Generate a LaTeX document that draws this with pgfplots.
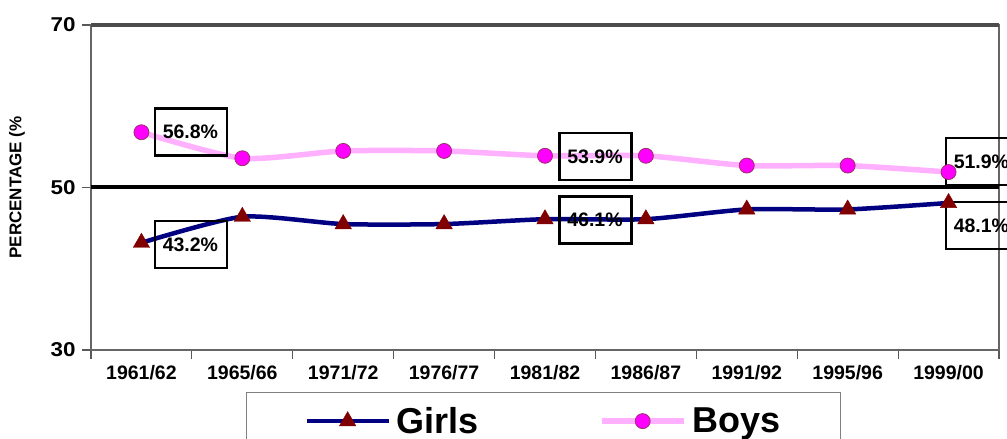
\documentclass[border=0pt]{standalone}
\usepackage{fontspec}
\setmainfont{Liberation Sans}
\newfontfamily\stretchfont[FakeStretch=1.12]{Liberation Sans}
\usepackage{pgfplots}
\pgfplotsset{compat=1.18}
\definecolor{girlsline}{RGB}{0,0,128}
\definecolor{girlsmark}{RGB}{128,0,0}
\definecolor{boysline}{RGB}{255,176,255}
\definecolor{boysmark}{RGB}{255,0,255}
\definecolor{boysedge}{RGB}{153,51,102}
\begin{document}
\begin{tikzpicture}
\path[use as bounding box] (-91pt,-89pt) rectangle (916pt,350pt);
\begin{axis}[
  at={(0pt,0pt)}, anchor=south west,
  scale only axis, width=908pt, height=325pt,
  xmin=-0.5, xmax=8.5, ymin=30, ymax=70,
  clip=false,
  xtick={0,...,8},
  xticklabels={1961/62,1965/66,1971/72,1976/77,1981/82,1986/87,1991/92,1995/96,1999/00},
  minor xtick={-0.5,0.5,...,8.5},
  ytick={30,50,70},
  tick align=outside,
  tick pos=left,
  major tick length=9pt, minor tick length=9pt,
  major x tick style={draw=none},
  every tick/.style={gray!70!black, line width=1.2pt},
  axis line style={draw=gray!80!black, line width=1.2pt},
  /pgf/number format/assume math mode=true,
  yticklabel style={font=\stretchfont\fontsize{20}{20}\selectfont\bfseries, xshift=-3pt},
  xticklabel style={font=\fontsize{19.5}{19.5}\selectfont\bfseries, yshift=-3pt},
  ylabel={PERCENTAGE (\%},
  ylabel style={at={(axis description cs:-0.0815,0.5)}, anchor=center, font=\fontsize{17}{17}\selectfont\bfseries},
  legend columns=2,
  legend style={at={(0.1707,-0.129)}, anchor=north west, draw=gray, line width=0.8pt,
    font=\fontsize{36}{36}\selectfont\bfseries, inner xsep=58pt, inner ysep=13pt,
    /tikz/every odd column/.append style={column sep=4pt},
    /tikz/every even column/.append style={column sep=118pt}},
  legend image code/.code={\draw[mark repeat=2,mark phase=2] plot coordinates {(0pt,0pt) (41pt,0pt) (82pt,0pt)};},
]
\draw[black, line width=4pt] (axis cs:-0.5,50) -- (axis cs:8.5,50);
\draw[gray!60!black, line width=3.5pt] (axis cs:-0.5,70) -- (axis cs:8.5,70);
\addplot[girlsline, line width=4.5pt, smooth, tension=0.4, mark=triangle*, mark size=9.5pt,
  mark options={draw=girlsmark, fill=girlsmark, line width=0.4pt}]
  coordinates {(0,43.2)(1,46.4)(2,45.5)(3,45.5)(4,46.1)(5,46.1)(6,47.3)(7,47.3)(8,48.1)};
\addlegendentry{Girls}
\addplot[boysline, line width=5.5pt, smooth, tension=0.4, mark=*, mark size=7.5pt,
  mark options={draw=boysedge, fill=boysmark, line width=0.8pt}]
  coordinates {(0,56.8)(1,53.6)(2,54.5)(3,54.5)(4,53.9)(5,53.9)(6,52.7)(7,52.7)(8,51.9)};
\addlegendentry{Boys}
\tikzset{lbl/.style={draw=black, line width=2.5pt, anchor=west, inner xsep=8pt, text width=56pt, align=left, minimum height=47pt, font=\fontsize{19.5}{20}\selectfont\bfseries}}
\node[lbl] at (axis cs:0.12,56.8) {56.8\%};
\node[lbl] at (axis cs:0.12,43.0) {43.2\%};
\node[lbl] at (axis cs:4.13,53.8) {53.9\%};
\node[lbl] at (axis cs:4.13,46.0) {46.1\%};
\node[lbl] at (axis cs:7.96,53.2) {51.9\%};
\node[lbl] at (axis cs:7.96,45.3) {48.1\%};
\end{axis}
\end{tikzpicture}
\end{document}
